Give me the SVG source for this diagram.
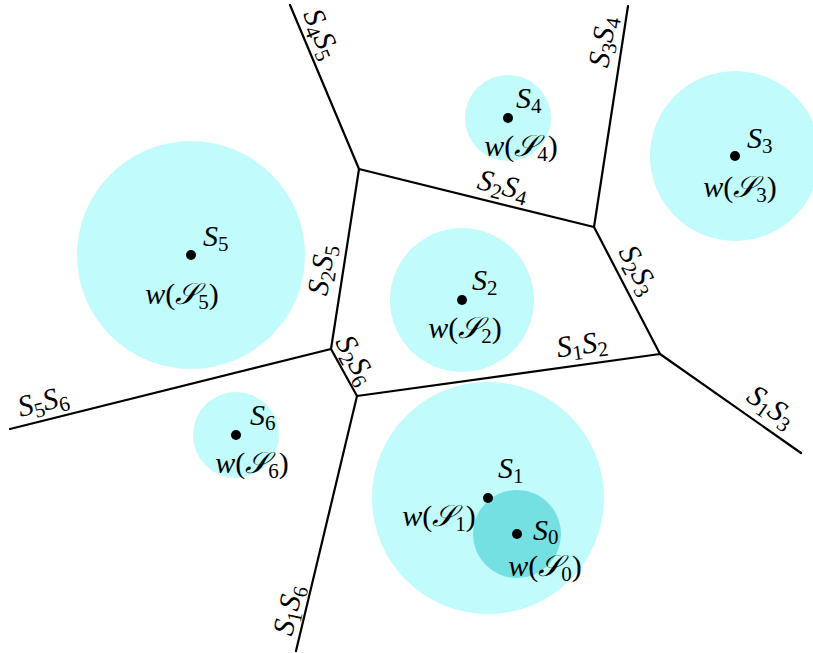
<svg xmlns="http://www.w3.org/2000/svg" width="813" height="653" viewBox="0 0 813 653">
<style>
.w{fill:#c2fbfb}
.d{fill:#74e0e2}
.e{stroke:#000;stroke-width:2.2;fill:none;stroke-linecap:round;stroke-linejoin:round}
text{font-family:"Liberation Serif","DejaVu Serif",serif;font-size:30px;fill:#000}
.i{font-style:italic}
.s{font-size:21px;font-style:normal}
</style>
<rect width="813" height="653" fill="#fff"/>
<g id="circles">
<circle class="w" cx="191" cy="255" r="114"/>
<circle class="w" cx="462" cy="300" r="72"/>
<circle class="w" cx="508" cy="118" r="43"/>
<circle class="w" cx="735" cy="156" r="85"/>
<circle class="w" cx="236" cy="435" r="43"/>
<circle class="w" cx="488" cy="498" r="116"/>
<circle class="d" cx="517" cy="534" r="44"/>
</g>
<g id="connectors">
<path class="e" d="M290,5 L359,169 L594,227 L628,6"/>
<path class="e" d="M594,227 L660,354 L801,453"/>
<path class="e" d="M660,354 L357,396 L331,349 L359,169"/>
<path class="e" d="M331,349 L10,429"/>
<path class="e" d="M357,396 L296,651"/>
</g>
<g id="edge-labels">
<text transform="translate(321,34) rotate(67)" text-anchor="middle" y="9"><tspan class="i">S</tspan><tspan class="s" dy="5">4</tspan><tspan class="i" dy="-5">S</tspan><tspan class="s" dy="5">5</tspan></text>
<text transform="translate(603,42) rotate(-81)" text-anchor="middle" y="9"><tspan class="i">S</tspan><tspan class="s" dy="5">3</tspan><tspan class="i" dy="-5">S</tspan><tspan class="s" dy="5">4</tspan></text>
<text transform="translate(503,186) rotate(14)" text-anchor="middle" y="9"><tspan class="i">S</tspan><tspan class="s" dy="5">2</tspan><tspan class="i" dy="-5">S</tspan><tspan class="s" dy="5">4</tspan></text>
<text transform="translate(322,270) rotate(-81)" text-anchor="middle" y="9"><tspan class="i">S</tspan><tspan class="s" dy="5">2</tspan><tspan class="i" dy="-5">S</tspan><tspan class="s" dy="5">5</tspan></text>
<text transform="translate(355,360) rotate(61)" text-anchor="middle" y="9"><tspan class="i">S</tspan><tspan class="s" dy="5">2</tspan><tspan class="i" dy="-5">S</tspan><tspan class="s" dy="5">6</tspan></text>
<text transform="translate(638,270) rotate(62)" text-anchor="middle" y="9"><tspan class="i">S</tspan><tspan class="s" dy="5">2</tspan><tspan class="i" dy="-5">S</tspan><tspan class="s" dy="5">3</tspan></text>
<text transform="translate(582,345) rotate(-8)" text-anchor="middle" y="9"><tspan class="i">S</tspan><tspan class="s" dy="5">1</tspan><tspan class="i" dy="-5">S</tspan><tspan class="s" dy="5">2</tspan></text>
<text transform="translate(771,407) rotate(35)" text-anchor="middle" y="9"><tspan class="i">S</tspan><tspan class="s" dy="5">1</tspan><tspan class="i" dy="-5">S</tspan><tspan class="s" dy="5">3</tspan></text>
<text transform="translate(43,402) rotate(-14)" text-anchor="middle" y="9"><tspan class="i">S</tspan><tspan class="s" dy="5">5</tspan><tspan class="i" dy="-5">S</tspan><tspan class="s" dy="5">6</tspan></text>
<text transform="translate(289,610) rotate(-77)" text-anchor="middle" y="9"><tspan class="i">S</tspan><tspan class="s" dy="5">1</tspan><tspan class="i" dy="-5">S</tspan><tspan class="s" dy="5">6</tspan></text>
</g>
<g id="S5"><circle cx="191" cy="255" r="5"/><text x="203" y="246" class="i">S<tspan class="s" dy="5">5</tspan></text><text x="182" y="304" text-anchor="middle"><tspan class="i">w</tspan>(<tspan class="i">𝒮</tspan><tspan class="s" dy="5">5</tspan><tspan dy="-5">)</tspan></text></g>
<g id="S2"><circle cx="462" cy="300" r="5"/><text x="472" y="290" class="i">S<tspan class="s" dy="5">2</tspan></text><text x="465" y="338" text-anchor="middle"><tspan class="i">w</tspan>(<tspan class="i">𝒮</tspan><tspan class="s" dy="5">2</tspan><tspan dy="-5">)</tspan></text></g>
<g id="S4"><circle cx="508" cy="118" r="5"/><text x="516" y="108" class="i">S<tspan class="s" dy="5">4</tspan></text><text x="521" y="156" text-anchor="middle"><tspan class="i">w</tspan>(<tspan class="i">𝒮</tspan><tspan class="s" dy="5">4</tspan><tspan dy="-5">)</tspan></text></g>
<g id="S3"><circle cx="735" cy="156" r="5"/><text x="747" y="148" class="i">S<tspan class="s" dy="5">3</tspan></text><text x="740" y="197" text-anchor="middle"><tspan class="i">w</tspan>(<tspan class="i">𝒮</tspan><tspan class="s" dy="5">3</tspan><tspan dy="-5">)</tspan></text></g>
<g id="S6"><circle cx="236" cy="435" r="5"/><text x="250" y="425" class="i">S<tspan class="s" dy="5">6</tspan></text><text x="252" y="473" text-anchor="middle"><tspan class="i">w</tspan>(<tspan class="i">𝒮</tspan><tspan class="s" dy="5">6</tspan><tspan dy="-5">)</tspan></text></g>
<g id="S1"><circle cx="488" cy="498" r="5"/><text x="498" y="478" class="i">S<tspan class="s" dy="5">1</tspan></text><text x="439" y="526" text-anchor="middle"><tspan class="i">w</tspan>(<tspan class="i">𝒮</tspan><tspan class="s" dy="5">1</tspan><tspan dy="-5">)</tspan></text></g>
<g id="S0"><circle cx="517" cy="534" r="5"/><text x="533" y="540" class="i">S<tspan class="s" dy="4">0</tspan></text><text x="545" y="576" text-anchor="middle"><tspan class="i">w</tspan>(<tspan class="i">𝒮</tspan><tspan class="s" dy="5">0</tspan><tspan dy="-5">)</tspan></text></g>
</svg>
